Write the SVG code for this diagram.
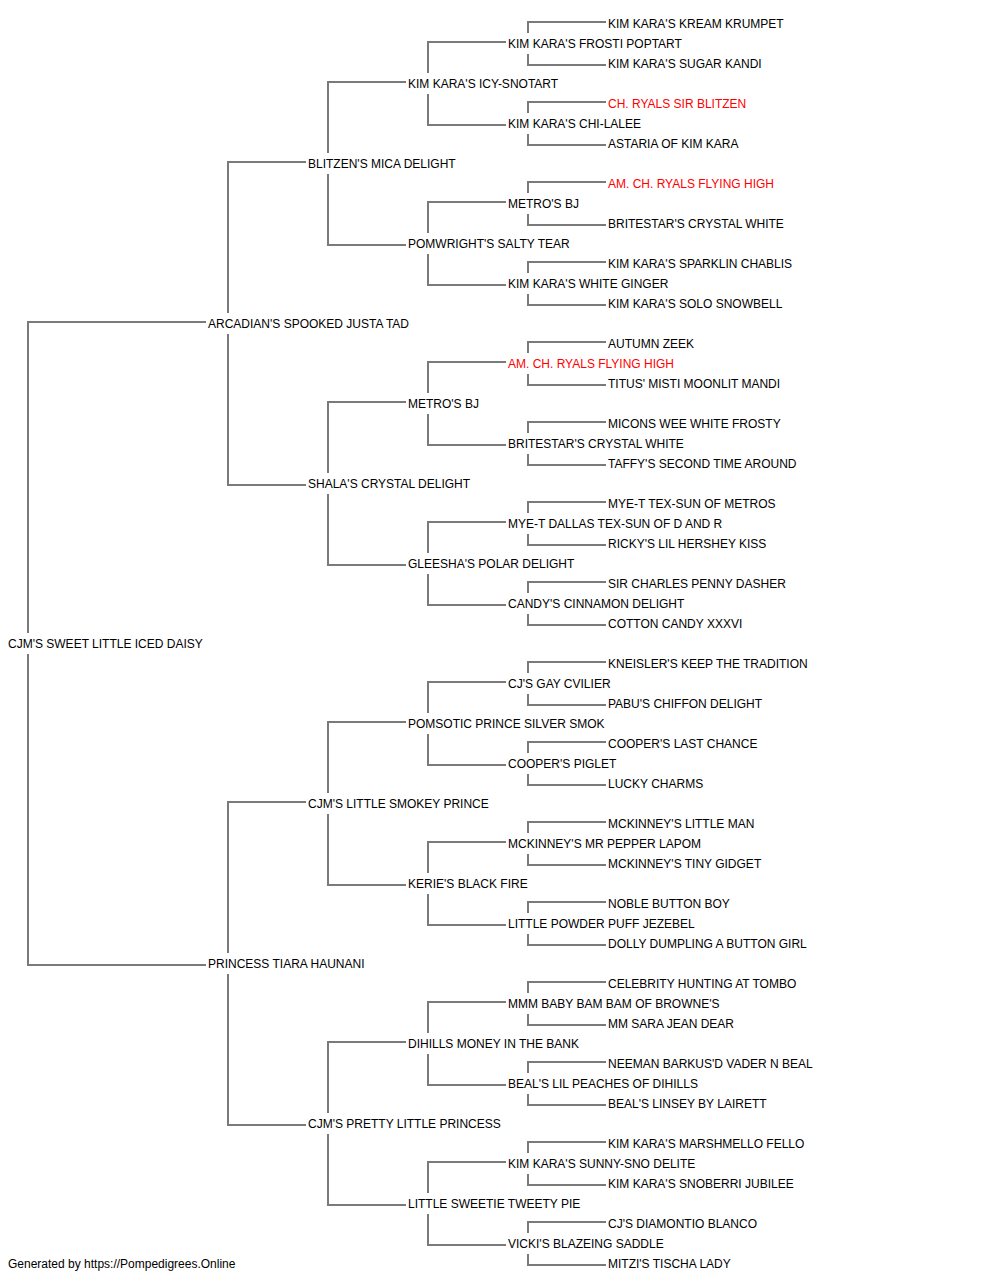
<svg xmlns="http://www.w3.org/2000/svg" width="1000" height="1280" viewBox="0 0 1000 1280">
<style>
text{font-family:"Liberation Sans",Arial,sans-serif;font-size:12px;fill:#000}
text.red{fill:#ff0000}
.c path{fill:none;stroke:#7a7a7a;stroke-width:2}
</style>
<rect width="1000" height="1280" fill="#fff"/>
<g class="c" id="connectors">
<path d="M206 322H28V633M28 654V965H206"/>
<path d="M306 162H228V313M228 334V485H306"/>
<path d="M306 802H228V953M228 974V1125H306"/>
<path d="M406 82H328V153M328 174V245H406"/>
<path d="M406 402H328V473M328 494V565H406"/>
<path d="M406 722H328V793M328 814V885H406"/>
<path d="M406 1042H328V1113M328 1134V1205H406"/>
<path d="M506 42H428V73M428 94V125H506"/>
<path d="M506 202H428V233M428 254V285H506"/>
<path d="M506 362H428V393M428 414V445H506"/>
<path d="M506 522H428V553M428 574V605H506"/>
<path d="M506 682H428V713M428 734V765H506"/>
<path d="M506 842H428V873M428 894V925H506"/>
<path d="M506 1002H428V1033M428 1054V1085H506"/>
<path d="M506 1162H428V1193M428 1214V1245H506"/>
<path d="M606 22H528V33M528 54V65H606"/>
<path d="M606 102H528V113M528 134V145H606"/>
<path d="M606 182H528V193M528 214V225H606"/>
<path d="M606 262H528V273M528 294V305H606"/>
<path d="M606 342H528V353M528 374V385H606"/>
<path d="M606 422H528V433M528 454V465H606"/>
<path d="M606 502H528V513M528 534V545H606"/>
<path d="M606 582H528V593M528 614V625H606"/>
<path d="M606 662H528V673M528 694V705H606"/>
<path d="M606 742H528V753M528 774V785H606"/>
<path d="M606 822H528V833M528 854V865H606"/>
<path d="M606 902H528V913M528 934V945H606"/>
<path d="M606 982H528V993M528 1014V1025H606"/>
<path d="M606 1062H528V1073M528 1094V1105H606"/>
<path d="M606 1142H528V1153M528 1174V1185H606"/>
<path d="M606 1222H528V1233M528 1254V1265H606"/>
</g>
<g id="n0"><text x="608" y="28">KIM KARA'S KREAM KRUMPET</text></g>
<g id="n1"><text x="508" y="48">KIM KARA'S FROSTI POPTART</text></g>
<g id="n2"><text x="608" y="68">KIM KARA'S SUGAR KANDI</text></g>
<g id="n3"><text x="408" y="88">KIM KARA'S ICY-SNOTART</text></g>
<g id="n4"><text class="red" x="608" y="108">CH. RYALS SIR BLITZEN</text></g>
<g id="n5"><text x="508" y="128">KIM KARA'S CHI-LALEE</text></g>
<g id="n6"><text x="608" y="148">ASTARIA OF KIM KARA</text></g>
<g id="n7"><text x="308" y="168">BLITZEN'S MICA DELIGHT</text></g>
<g id="n8"><text class="red" x="608" y="188">AM. CH. RYALS FLYING HIGH</text></g>
<g id="n9"><text x="508" y="208">METRO'S BJ</text></g>
<g id="n10"><text x="608" y="228">BRITESTAR'S CRYSTAL WHITE</text></g>
<g id="n11"><text x="408" y="248">POMWRIGHT'S SALTY TEAR</text></g>
<g id="n12"><text x="608" y="268">KIM KARA'S SPARKLIN CHABLIS</text></g>
<g id="n13"><text x="508" y="288">KIM KARA'S WHITE GINGER</text></g>
<g id="n14"><text x="608" y="308">KIM KARA'S SOLO SNOWBELL</text></g>
<g id="n15"><text x="208" y="328">ARCADIAN'S SPOOKED JUSTA TAD</text></g>
<g id="n16"><text x="608" y="348">AUTUMN ZEEK</text></g>
<g id="n17"><text class="red" x="508" y="368">AM. CH. RYALS FLYING HIGH</text></g>
<g id="n18"><text x="608" y="388">TITUS' MISTI MOONLIT MANDI</text></g>
<g id="n19"><text x="408" y="408">METRO'S BJ</text></g>
<g id="n20"><text x="608" y="428">MICONS WEE WHITE FROSTY</text></g>
<g id="n21"><text x="508" y="448">BRITESTAR'S CRYSTAL WHITE</text></g>
<g id="n22"><text x="608" y="468">TAFFY'S SECOND TIME AROUND</text></g>
<g id="n23"><text x="308" y="488">SHALA'S CRYSTAL DELIGHT</text></g>
<g id="n24"><text x="608" y="508">MYE-T TEX-SUN OF METROS</text></g>
<g id="n25"><text x="508" y="528">MYE-T DALLAS TEX-SUN OF D AND R</text></g>
<g id="n26"><text x="608" y="548">RICKY'S LIL HERSHEY KISS</text></g>
<g id="n27"><text x="408" y="568">GLEESHA'S POLAR DELIGHT</text></g>
<g id="n28"><text x="608" y="588">SIR CHARLES PENNY DASHER</text></g>
<g id="n29"><text x="508" y="608">CANDY'S CINNAMON DELIGHT</text></g>
<g id="n30"><text x="608" y="628">COTTON CANDY XXXVI</text></g>
<g id="n31"><text x="8" y="648">CJM'S SWEET LITTLE ICED DAISY</text></g>
<g id="n32"><text x="608" y="668">KNEISLER'S KEEP THE TRADITION</text></g>
<g id="n33"><text x="508" y="688">CJ'S GAY CVILIER</text></g>
<g id="n34"><text x="608" y="708">PABU'S CHIFFON DELIGHT</text></g>
<g id="n35"><text x="408" y="728">POMSOTIC PRINCE SILVER SMOK</text></g>
<g id="n36"><text x="608" y="748">COOPER'S LAST CHANCE</text></g>
<g id="n37"><text x="508" y="768">COOPER'S PIGLET</text></g>
<g id="n38"><text x="608" y="788">LUCKY CHARMS</text></g>
<g id="n39"><text x="308" y="808">CJM'S LITTLE SMOKEY PRINCE</text></g>
<g id="n40"><text x="608" y="828">MCKINNEY'S LITTLE MAN</text></g>
<g id="n41"><text x="508" y="848">MCKINNEY'S MR PEPPER LAPOM</text></g>
<g id="n42"><text x="608" y="868">MCKINNEY'S TINY GIDGET</text></g>
<g id="n43"><text x="408" y="888">KERIE'S BLACK FIRE</text></g>
<g id="n44"><text x="608" y="908">NOBLE BUTTON BOY</text></g>
<g id="n45"><text x="508" y="928">LITTLE POWDER PUFF JEZEBEL</text></g>
<g id="n46"><text x="608" y="948">DOLLY DUMPLING A BUTTON GIRL</text></g>
<g id="n47"><text x="208" y="968">PRINCESS TIARA HAUNANI</text></g>
<g id="n48"><text x="608" y="988">CELEBRITY HUNTING AT TOMBO</text></g>
<g id="n49"><text x="508" y="1008">MMM BABY BAM BAM OF BROWNE'S</text></g>
<g id="n50"><text x="608" y="1028">MM SARA JEAN DEAR</text></g>
<g id="n51"><text x="408" y="1048">DIHILLS MONEY IN THE BANK</text></g>
<g id="n52"><text x="608" y="1068">NEEMAN BARKUS'D VADER N BEAL</text></g>
<g id="n53"><text x="508" y="1088">BEAL'S LIL PEACHES OF DIHILLS</text></g>
<g id="n54"><text x="608" y="1108">BEAL'S LINSEY BY LAIRETT</text></g>
<g id="n55"><text x="308" y="1128">CJM'S PRETTY LITTLE PRINCESS</text></g>
<g id="n56"><text x="608" y="1148">KIM KARA'S MARSHMELLO FELLO</text></g>
<g id="n57"><text x="508" y="1168">KIM KARA'S SUNNY-SNO DELITE</text></g>
<g id="n58"><text x="608" y="1188">KIM KARA'S SNOBERRI JUBILEE</text></g>
<g id="n59"><text x="408" y="1208">LITTLE SWEETIE TWEETY PIE</text></g>
<g id="n60"><text x="608" y="1228">CJ'S DIAMONTIO BLANCO</text></g>
<g id="n61"><text x="508" y="1248">VICKI'S BLAZEING SADDLE</text></g>
<g id="n62"><text x="608" y="1268">MITZI'S TISCHA LADY</text></g>
<g id="footer"><text x="8" y="1268">Generated by https://Pompedigrees.Online</text></g>
</svg>
